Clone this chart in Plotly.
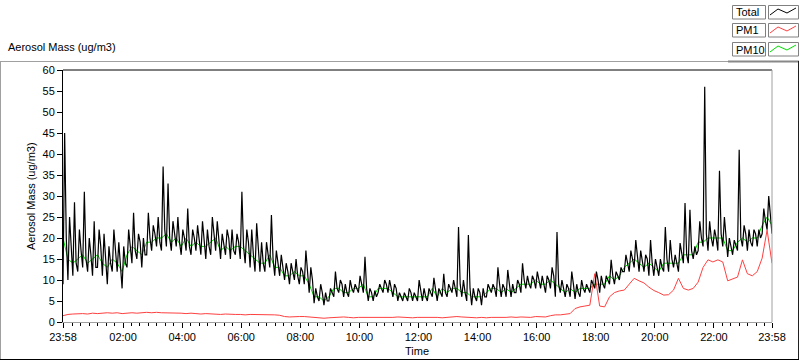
import plotly.graph_objects as go
from datetime import datetime, timedelta

# ---------------- data (10-minute bins starting 23:58) ----------------
start_time = datetime(2000, 1, 1, 23, 58)
bin_minutes = 10

# Total: low / high / middle reading within each bin
total_lo = [9, 10, 11, 12, 13, 12, 11, 13, 11, 9, 12, 12,
            8, 13, 14, 15, 13, 16, 17, 18, 17, 18, 17, 18,
            16, 17, 16, 17, 16, 15, 16, 17, 15, 16, 15, 16,
            15, 14, 13, 12, 12, 12, 13, 11, 11, 10, 9, 10,
            9, 9, 7, 4.5, 5, 4, 5, 6, 7, 6, 6, 7,
            7, 7, 5, 5, 7, 7, 7, 6, 5, 5, 5, 5,
            5, 5, 5, 6, 5, 6, 6, 7, 6, 6, 5, 4,
            5, 4, 6, 7, 6, 6, 6, 6, 7, 7, 8, 8,
            8, 8, 7, 8, 6, 7, 6, 6, 5.5, 6, 7, 7,
            8, 7, 8, 9, 9, 10, 12, 12, 13, 12, 12, 11,
            11, 11, 12, 12, 13, 12, 14, 14, 15, 17, 18, 17,
            18, 17, 18, 15.5, 16, 17, 18, 17, 18, 18, 21, 22, 21]
total_hi = [45, 25, 28.5, 22, 31, 20, 24, 22, 21, 18, 22, 19,
            18, 22, 26, 21, 20, 26, 23, 25, 37, 33, 24, 25,
            22, 27, 22, 23, 24, 22, 25, 24, 21, 22, 22, 21,
            31, 22, 22, 23.5, 19, 19, 25.5, 17, 16, 14, 14, 15,
            13, 17, 13, 8, 9, 7, 8, 12, 10, 9, 10, 9,
            11, 15.5, 8, 7.5, 9, 10, 10, 9, 7, 7, 8, 7,
            10, 8, 8, 10.5, 8, 11.5, 9, 10, 22.6, 10, 20.7, 8,
            8, 8, 9, 9, 13, 9, 12.4, 9, 10, 14, 11, 11,
            12, 11, 11, 13, 21.4, 10, 9, 12, 9, 10, 9, 10,
            12, 11, 11, 14.8, 12, 13, 16, 17, 19.5, 17, 16, 19.5,
            15, 15, 22.6, 19.5, 16, 18.8, 28.3, 26.7, 18, 24, 56, 24,
            22, 36, 25, 20, 19.5, 41, 23, 22, 22, 22, 27, 30, 26]
total_mid = [20, 18, 14, 17, 15, 16, 13, 18, 15, 14, 17, 14,
             14, 18, 17, 19, 16, 20, 21, 19, 22, 20, 21, 19,
             20, 18, 20, 19, 20, 18, 21, 19, 18, 20, 17, 19,
             18, 19, 16, 17, 14, 16, 15, 14, 13, 12, 12, 11,
             12, 11, 10, 6, 7, 5, 7, 8, 9, 7, 8, 8,
             9, 8, 7, 6, 8, 9, 8, 8, 6, 6, 7, 6,
             7, 6, 7, 8, 7, 7, 8, 8, 9, 7, 8, 6,
             7, 6, 8, 8, 9, 8, 9, 7, 9, 10, 9, 10,
             10, 9, 10, 11, 9, 8, 8, 9, 7, 8, 8, 9,
             10, 9, 10, 11, 11, 12, 14, 15, 15, 14, 15, 14,
             13, 13, 15, 15, 14, 16, 16, 17, 16, 20, 21, 20,
             20, 21, 20, 18, 18, 20, 21, 19, 21, 20, 24, 26, 24]
pm10 = [20, 15, 14, 15, 16, 14, 15, 16, 14, 13, 15, 14,
        12, 16, 18, 17, 16, 19, 19, 20, 20, 21, 19, 20,
        18, 20, 18, 19, 18, 18, 19, 20, 17, 18, 17, 18,
        18, 17, 16, 15, 14, 14, 16, 13, 13, 11, 11, 12,
        11, 11, 9, 6, 6, 5, 6, 8, 8, 7, 7, 8,
        8, 9, 6, 6, 8, 8, 8, 7, 6, 6, 6, 6,
        6, 6, 6, 8, 6, 8, 7, 8, 8, 7, 7, 6,
        6, 6, 7, 8, 8, 7, 8, 7, 8, 9, 9, 9,
        10, 9, 9, 10, 9, 8, 7, 8, 7, 8, 8, 8,
        9, 9, 9, 11, 10, 11, 13, 14, 15, 14, 13, 14,
        13, 12, 14, 14, 14, 14, 16, 16, 16, 19, 19, 20,
        20, 20, 20, 17, 17, 19, 20, 19, 20, 20, 23, 25, 23]
pm1 = [1.5, 1.8, 1.9, 2.0, 2.0, 1.9, 2.1, 2.0, 2.1, 2.2, 2.1, 2.2,
       2.0, 2.1, 2.2, 2.1, 2.2, 2.3, 2.2, 2.3, 2.2, 2.2, 2.1, 2.2,
       2.1, 2.0, 2.1, 2.0, 1.9, 2.0, 1.9, 1.9, 1.8, 1.9, 1.8, 1.8,
       1.8, 1.7, 1.8, 1.8, 1.7, 1.7, 1.7, 1.7, 1.6, 1.3, 1.2, 1.3,
       1.3, 1.3, 1.2, 1.0, 0.9, 0.9, 1.0, 1.1, 1.1, 1.2, 1.1, 1.0,
       1.1, 1.1, 1.0, 1.0, 1.1, 1.1, 1.1, 1.1, 1.2, 1.1, 1.1, 1.0,
       1.1, 1.1, 1.2, 1.1, 1.1, 1.0, 1.1, 1.2, 1.3, 1.2, 1.1, 1.0,
       1.0, 1.1, 1.0, 1.1, 1.1, 1.0, 1.1, 1.2, 1.1, 1.2, 1.1, 1.1,
       1.3, 1.3, 1.2, 1.5, 1.7, 1.7, 1.8, 2.0, 3.2, 3.6, 3.8, 4.0,
       11.5, 3.8, 3.6, 6.0, 7.0, 7.4, 7.6, 9.0, 10.4, 9.8, 9.3, 8.3,
       7.5, 7.0, 6.4, 6.5, 7.6, 10.4, 8.0, 7.6, 8.0, 9.5, 13.0, 14.8,
       14.3, 14.8, 14.3, 9.8, 10.2, 10.7, 14.8, 11.5, 11.0, 12.0, 15.2, 21.9, 14.0]

tick_hours = [2, 4, 6, 8, 10, 12, 14, 16, 18, 20, 22]
tick_labels = ["23:58"] + ["%02d:00" % h for h in tick_hours] + ["23:58"]
y_ticks = list(range(0, 61, 5))
legend_names = ["Total", "PM1", "PM10"]
colors = {"Total": "#000000", "PM1": "#ff4040", "PM10": "#00e000"}

# ---------------- build series ----------------
n = len(total_lo)
times = [start_time + timedelta(minutes=bin_minutes * i) for i in range(n)]
tt, tv = [], []
for i in range(n):
    tt.append(times[i]); tv.append(total_lo[i])
    tt.append(times[i] + timedelta(minutes=bin_minutes / 3)); tv.append(total_hi[i])
    tt.append(times[i] + timedelta(minutes=2 * bin_minutes / 3)); tv.append(total_mid[i])

end_time = start_time + timedelta(hours=24)
day2 = datetime(2000, 1, 2)
tick_vals = [start_time] + [day2 + timedelta(hours=h) for h in tick_hours] + [end_time]
minor_vals = []
for h in range(0, 24, 2):
    base = day2 + timedelta(hours=h)
    for k in range(1, 7):
        m = base + timedelta(minutes=120 * k / 7)
        if m < end_time:
            minor_vals.append(m)

fig = go.Figure()
fig.add_trace(go.Scatter(x=times, y=pm10, mode="lines", name="PM10",
                         line=dict(color=colors["PM10"], width=1)))
fig.add_trace(go.Scatter(x=times, y=pm1, mode="lines", name="PM1",
                         line=dict(color=colors["PM1"], width=1)))
fig.add_trace(go.Scatter(x=tt, y=tv, mode="lines", name="Total",
                         line=dict(color=colors["Total"], width=1.2)))

# ---------------- layout ----------------
L, R, T, B = 63, 772, 70, 322
W, H = 800, 361


def px(x):
    return (x - L) / (R - L)


def py(y):
    return (B - y) / (B - T)


font = dict(family="Liberation Sans, Arial, sans-serif", size=11, color="black")

shapes = []
shapes.append(dict(type="line", xref="paper", yref="paper", x0=0, x1=1, y0=1, y1=1,
                   line=dict(color="black", width=1)))
shapes.append(dict(type="line", xref="paper", yref="paper", x0=1, x1=1, y0=0, y1=1,
                   line=dict(color="#a0a0a0", width=1)))
shapes.append(dict(type="line", xref="paper", yref="paper", x0=px(0.5), x1=px(728), y0=py(61.5), y1=py(61.5),
                   line=dict(color="#a0a0a0", width=1)))
shapes.append(dict(type="line", xref="paper", yref="paper", x0=px(728), x1=px(799), y0=py(61.5), y1=py(61.5),
                   line=dict(color="#888888", width=2)))
shapes.append(dict(type="line", xref="paper", yref="paper", x0=px(0.5), x1=px(0.5), y0=py(61), y1=py(360),
                   line=dict(color="#a0a0a0", width=1)))
shapes.append(dict(type="line", xref="paper", yref="paper", x0=px(798.5), x1=px(798.5), y0=py(61), y1=py(360),
                   line=dict(color="#202020", width=1)))
shapes.append(dict(type="line", xref="paper", yref="paper", x0=px(0), x1=px(799), y0=py(359.5), y1=py(359.5),
                   line=dict(color="#000000", width=1)))

annotations = []
box_tops = [5.5, 23.5, 42.5]
for name, top in zip(legend_names, box_tops):
    bot = top + 13.5
    shapes.append(dict(type="rect", xref="paper", yref="paper", x0=px(732.5), x1=px(765.5),
                       y0=py(bot), y1=py(top), line=dict(color="#808080", width=1),
                       fillcolor="white"))
    shapes.append(dict(type="rect", xref="paper", yref="paper", x0=px(768.5), x1=px(798.5),
                       y0=py(bot), y1=py(top), line=dict(color="#808080", width=1),
                       fillcolor="white"))
    zx = [770, 778, 787, 796]
    zy = [top + 9.5, top + 3.5, top + 7.5, top + 2.5]
    path = "M %f %f" % (px(zx[0]), py(zy[0]))
    for a, b in zip(zx[1:], zy[1:]):
        path += " L %f %f" % (px(a), py(b))
    shapes.append(dict(type="path", xref="paper", yref="paper", path=path,
                       line=dict(color=colors[name], width=1)))
    annotations.append(dict(text=name, xref="paper", yref="paper", x=px(733.5), y=py(top + 7),
                            xanchor="left", yanchor="middle", showarrow=False,
                            font=dict(family=font["family"], size=11, color="black")))

annotations.append(dict(text="Aerosol Mass (ug/m3)", xref="paper", yref="paper",
                        x=px(6), y=py(47), xanchor="left", yanchor="middle",
                        showarrow=False, font=font))
annotations.append(dict(text="Time", xref="paper", yref="paper",
                        x=px(417), y=py(351), xanchor="center", yanchor="middle",
                        showarrow=False, font=font))
annotations.append(dict(text="Aerosol Mass (ug/m3)", xref="paper", yref="paper",
                        x=px(31), y=py(196), xanchor="center", yanchor="middle",
                        textangle=-90, showarrow=False, font=font))

fig.update_layout(
    width=W, height=H,
    margin=dict(l=L, r=W - R, t=T, b=H - B, pad=0),
    paper_bgcolor="white", plot_bgcolor="white",
    showlegend=False,
    font=font,
    shapes=shapes,
    annotations=annotations,
    xaxis=dict(type="date", range=[start_time, end_time], tickmode="array",
               tickvals=tick_vals, ticktext=tick_labels, ticks="outside",
               ticklen=5, tickwidth=1, tickcolor="black",
               showline=True, linecolor="#a0a0a0", linewidth=1,
               showgrid=False, zeroline=False, tickfont=font,
               minor=dict(tickmode="array", tickvals=minor_vals, ticks="outside",
                          ticklen=3, tickwidth=1, tickcolor="black", showgrid=False)),
    yaxis=dict(range=[0, 60], tickmode="array", tickvals=y_ticks,
               ticks="outside", ticklen=5, tickwidth=1, tickcolor="black",
               showline=True, linecolor="black", linewidth=1,
               showgrid=False, zeroline=False, tickfont=font),
)

fig.write_html("out.html", config={"displayModeBar": False},
               post_script="document.body.style.margin='0px';document.body.style.padding='0px';")
